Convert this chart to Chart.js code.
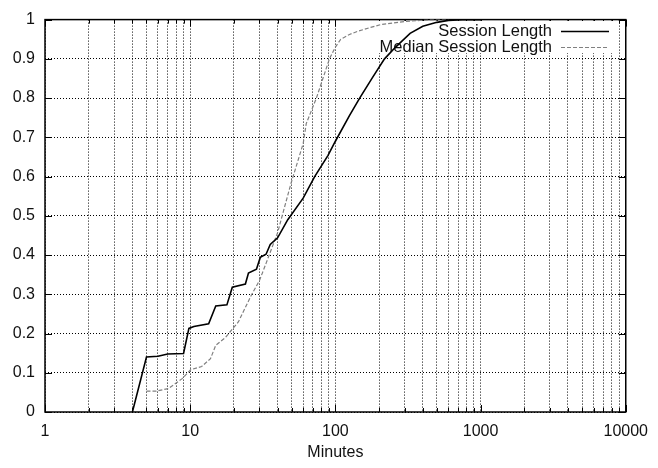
<!DOCTYPE html>
<html><head><meta charset="utf-8">
<script src="https://cdn.jsdelivr.net/npm/chart.js@4/dist/chart.umd.min.js"></script>
<style>html,body{margin:0;padding:0;background:#fff}</style>
</head><body>
<canvas id="c" width="658" height="468"></canvas>
<script>
// ---- data ----
const seriesNames = ["Session Length", "Median Session Length"];
const sessionX = [4, 5, 6, 7, 9, 9.8, 10.6, 13.4, 15, 17.9, 19.5, 24, 25.2, 28.6, 30.4, 33.3, 35.6, 40, 47, 60, 72, 89, 100, 125, 147, 180, 218, 260, 327, 400, 500, 600, 750, 1000];
const sessionY = [0, 0.14, 0.142, 0.148, 0.149, 0.213, 0.218, 0.225, 0.27, 0.273, 0.318, 0.326, 0.354, 0.364, 0.394, 0.402, 0.427, 0.444, 0.49, 0.545, 0.60, 0.654, 0.69, 0.755, 0.80, 0.852, 0.90, 0.93, 0.965, 0.983, 0.993, 0.998, 1, 1];
const medianX = [5, 5.8, 7.1, 8.8, 10.1, 12, 13.8, 15, 17.5, 21.5, 24.4, 26.4, 30, 33.4, 40, 49.5, 60, 63, 74, 91, 100, 109, 125, 142, 175, 204, 300, 450, 600];
const medianY = [0.053, 0.053, 0.06, 0.085, 0.108, 0.116, 0.136, 0.17, 0.19, 0.23, 0.272, 0.298, 0.335, 0.38, 0.457, 0.583, 0.684, 0.735, 0.80, 0.90, 0.93, 0.95, 0.962, 0.97, 0.98, 0.987, 0.995, 1, 1];
const xTickValues = [1,2,3,4,5,6,7,8,9,10,20,30,40,50,60,70,80,90,100,200,300,400,500,600,700,800,900,1000,2000,3000,4000,5000,6000,7000,8000,9000,10000];
const xTickLabels = {1:"1", 10:"10", 100:"100", 1000:"1000", 10000:"10000"};
const yTickValues = [0,0.1,0.2,0.3,0.4,0.5,0.6,0.7,0.8,0.9,1];
const yTickLabels = ["0","0.1","0.2","0.3","0.4","0.5","0.6","0.7","0.8","0.9","1"];
const xTitle = "Minutes";

const FONT = '"Liberation Sans", Arial, Helvetica, sans-serif';
const toPts = (xs, ys) => xs.map((x, i) => ({x: x, y: ys[i]}));

const frame = {
  id: 'frame',
  beforeDatasetsDraw(chart) {
    const {ctx, chartArea: a, scales} = chart;
    ctx.save();
    // inward ticks on all four sides
    ctx.strokeStyle = '#000'; ctx.lineWidth = 1; ctx.setLineDash([]);
    xTickValues.forEach(v => {
      const px = Math.round(scales.x.getPixelForValue(v)) + 0.5;
      const len = xTickLabels[v] ? 7 : 4;
      ctx.beginPath();
      ctx.moveTo(px, a.bottom); ctx.lineTo(px, a.bottom - len);
      ctx.moveTo(px, a.top); ctx.lineTo(px, a.top + len);
      ctx.stroke();
    });
    yTickValues.forEach(v => {
      const py = Math.round(scales.y.getPixelForValue(v)) + 0.5;
      ctx.beginPath();
      ctx.moveTo(a.left, py); ctx.lineTo(a.left + 7, py);
      ctx.moveTo(a.right, py); ctx.lineTo(a.right - 7, py);
      ctx.stroke();
    });
    // key
    ctx.fillStyle = '#fff';
    ctx.fillRect(376, 21, 240, 32);
    ctx.fillStyle = '#111';
    ctx.font = '16.5px ' + FONT;
    ctx.textAlign = 'right'; ctx.textBaseline = 'middle';
    ctx.fillText(seriesNames[0], 552, 31);
    ctx.fillText(seriesNames[1], 552, 47);
    ctx.lineWidth = 1.5; ctx.strokeStyle = '#000';
    ctx.beginPath(); ctx.moveTo(561, 31.5); ctx.lineTo(609, 31.5); ctx.stroke();
    ctx.lineWidth = 1.2; ctx.strokeStyle = '#808080'; ctx.setLineDash([4, 2]);
    ctx.beginPath(); ctx.moveTo(561, 47.5); ctx.lineTo(609, 47.5); ctx.stroke();
    ctx.setLineDash([]);
    // border
    ctx.lineWidth = 1.5; ctx.strokeStyle = '#000';
    ctx.strokeRect(a.left, a.top, a.right - a.left, a.bottom - a.top);
    ctx.restore();
  }
};

new Chart(document.getElementById('c'), {
  type: 'scatter',
  data: {
    datasets: [
      {label: seriesNames[0], data: toPts(sessionX, sessionY), showLine: true, borderColor: '#000', borderWidth: 1.6, pointRadius: 0, tension: 0},
      {label: seriesNames[1], data: toPts(medianX, medianY), showLine: true, borderColor: '#808080', borderWidth: 1.2, borderDash: [4, 2], pointRadius: 0, tension: 0}
    ]
  },
  options: {
    responsive: false, animation: false, devicePixelRatio: 1,
    layout: {padding: {left: 0, right: 28, top: 15, bottom: 0}},
    plugins: {legend: {display: false}, tooltip: {enabled: false}},
    scales: {
      x: {
        type: 'logarithmic', min: 1, max: 10000,
        afterBuildTicks: s => { s.ticks = xTickValues.map(v => ({value: v})); },
        afterFit: s => { s.height = 56; },
        grid: {color: '#000', lineWidth: 1, drawTicks: false},
        border: {display: false, dash: [1, 2]},
        ticks: {autoSkip: false, maxRotation: 0, padding: 10, color: '#111', font: {family: FONT, size: 16},
          callback: (v) => xTickLabels[v] !== undefined ? xTickLabels[v] : ''},
        title: {display: true, text: xTitle, color: '#111', font: {family: FONT, size: 16}, padding: {top: 0, bottom: 6}}
      },
      y: {
        min: 0, max: 1,
        afterBuildTicks: s => { s.ticks = yTickValues.map(v => ({value: v})); },
        afterFit: s => { s.width = 45; },
        grid: {color: '#000', lineWidth: 1, drawTicks: false},
        border: {display: false, dash: [1, 2]},
        ticks: {padding: 10, color: '#111', font: {family: FONT, size: 16},
          callback: (v, i) => yTickLabels[i]}
      }
    }
  },
  plugins: [frame]
});
</script>
</body></html>
